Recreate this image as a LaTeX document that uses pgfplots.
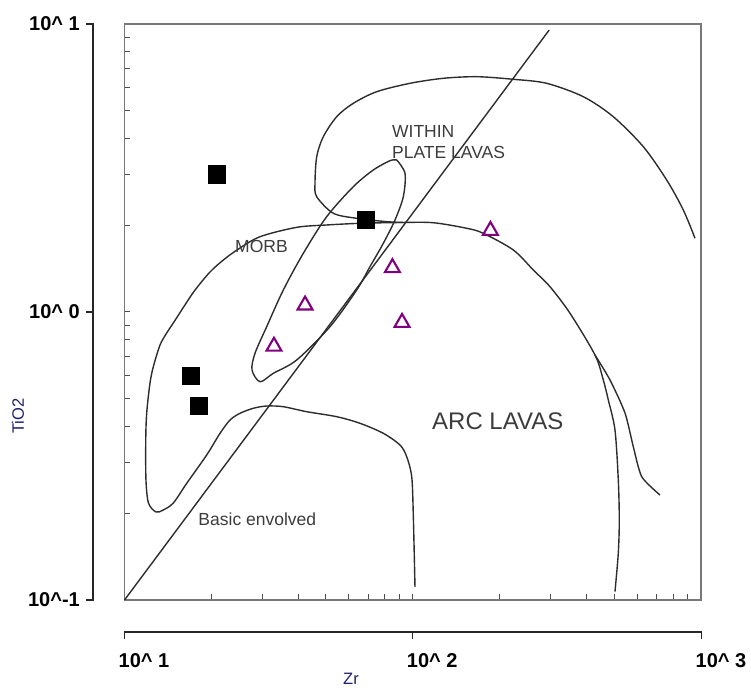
\documentclass[border=0pt]{standalone}
\usepackage{pgfplots}
\pgfplotsset{compat=1.18}
\usepackage{fontspec}
\setmainfont{Liberation Sans}
\definecolor{curve}{RGB}{45,45,45}
\definecolor{boxgray}{RGB}{120,120,120}
\definecolor{lblgray}{RGB}{60,60,60}
\definecolor{mpurple}{RGB}{128,0,128}
\definecolor{axlbl}{RGB}{30,30,110}
\begin{document}
\begin{tikzpicture}
\useasboundingbox (-124.5pt,-87pt) rectangle (626.5pt,600pt);
\begin{axis}[
  at={(0pt,0pt)}, anchor=south west,
  scale only axis, width=576.5pt, height=576pt,
  xmode=log, ymode=log,
  xmin=10, xmax=1000, ymin=0.1, ymax=10,
  axis line style={boxgray, line width=1.3pt},
  xtick pos=left, ytick pos=left,
  tick align=inside,
  xtick={10,100,1000}, ytick={0.1,1,10},
  xticklabels={,,}, yticklabels={,,},
  major tick length=6pt, minor tick length=6pt,
  every tick/.style={black!70, line width=1pt},
  clip=false,
]
% diagonal line
\addplot[curve, line width=1.4pt] coordinates {(10,0.1) (297.2,9.52)};
% MORB / ARC / basic envolved boundary
\addplot[curve, line width=1.4pt, smooth, tension=0.5] coordinates {
(101.8,0.1110) (100.4,0.2000) (99.17,0.2680) (95.28,0.3145) (90.32,0.3452)
(79.05,0.3792) (65.61,0.4107) (54.47,0.4330) (42.86,0.4506) (35.56,0.4690)
(31.14,0.4716) (27.98,0.4631) (25.16,0.4449) (23.23,0.4217) (21.45,0.3792)
(19.28,0.3188) (16.44,0.2542) (14.77,0.2172) (13.63,0.2054) (12.86,0.2021)
(12.11,0.2172) (11.87,0.2610) (11.85,0.3593) (11.94,0.4460) (12.26,0.5668)
(12.59,0.6458) (13.28,0.7680) (14.01,0.8455) (14.77,0.9159) (16.21,1.058)
(17.57,1.192) (19.80,1.377) (22.02,1.515) (24.57,1.642) (29.52,1.826)
(39.57,1.968) (50.29,2.005) (65.61,2.032) (90.32,2.045) (117.6,2.042)
(153.9,1.953) (175.7,1.876) (223.3,1.642) (261.9,1.399) (299.3,1.224)
(351.2,0.9897) (428.7,0.7093) (458.2,0.5806) (476.9,0.4948) (503.0,0.3893)
(516.5,0.2610) (520.6,0.1896) (516.5,0.1456) (503.0,0.1069)};
% outer arc branch
\addplot[curve, line width=1.4pt, smooth, tension=0.4] coordinates {
(428.7,0.7093) (483.4,0.5806) (544.9,0.4460) (582.3,0.3406) (622.8,0.2680) (720.6,0.2315)};
% within plate lavas
\addplot[curve, line width=1.4pt, smooth, tension=0.5] coordinates {
(93.99,2.045) (81.23,2.059) (63.90,2.115) (53.01,2.202) (46.43,2.514)
(45.80,2.798) (46.43,3.461) (48.94,4.061) (54.47,4.766) (62.19,5.304)
(74.99,5.820) (97.83,6.224) (127.6,6.478) (166.7,6.562) (223.3,6.427)
(291.5,6.224) (390.6,5.592) (496.2,4.766) (630.8,3.749) (760.3,2.873)
(868.1,2.261) (953.2,1.803)};
% MORB elongated loop
\addplot[curve, line width=1.4pt, smooth, tension=0.5] coordinates {
(87.97,3.372) (93.99,3.031) (92.73,2.514) (86.78,2.087) (79.05,1.732)
(71.07,1.437) (63.90,1.192) (51.63,0.8892) (39.57,0.6813) (32.83,0.6125)
(29.52,0.5727) (27.69,0.6290) (28.36,0.7188) (31.14,0.8892) (35.56,1.192)
(41.72,1.599) (50.29,2.143) (62.19,2.723) (72.96,3.112) (83.38,3.353)
(87.97,3.372)};
% samples
\addplot[only marks, mark=square*, mark size=8.6pt,
  mark options={draw=black, fill=black, line width=0.4pt}] coordinates {
(20.9,3.01) (68.8,2.09) (17.0,0.600) (18.1,0.472)};
\addplot[only marks, mark=triangle, mark size=8.6pt,
  mark options={draw=mpurple, line width=2.1pt, solid}] coordinates {
(33.0,0.760) (42.3,1.056) (85.0,1.424) (91.8,0.919) (186,1.918)};
% field labels
\node[anchor=west, inner sep=0pt, text=lblgray, font=\fontsize{17.5}{17.5}\selectfont] at (axis cs:84.7,4.25) {WITHIN};
\node[anchor=west, inner sep=0pt, text=lblgray, font=\fontsize{17.5}{17.5}\selectfont] at (axis cs:84.7,3.593) {PLATE LAVAS};
\node[anchor=west, inner sep=0pt, text=lblgray, font=\fontsize{17.5}{17.5}\selectfont] at (axis cs:24.17,1.695) {MORB};
\node[anchor=west, inner sep=0pt, text=lblgray, font=\fontsize{17.5}{17.5}\selectfont] at (axis cs:18.03,0.1906) {Basic envolved};
\node[anchor=west, inner sep=0pt, text=lblgray, font=\fontsize{24}{24}\selectfont] at (axis cs:116.6,0.4183) {ARC LAVAS};
\end{axis}
% outer y axis
\draw[black!85, line width=1.3pt] (-38.5pt,576pt) -- (-31.5pt,576pt) -- (-31.5pt,0pt) -- (-38.5pt,0pt);
\draw[black!85, line width=1.3pt] (-38.5pt,288pt) -- (-31.5pt,288pt);
\node[anchor=east, inner sep=0pt, font=\bfseries\fontsize{20}{20}\selectfont] at (-44.5pt,576pt) {10\textasciicircum\ 1};
\node[anchor=east, inner sep=0pt, font=\bfseries\fontsize{20}{20}\selectfont] at (-44.5pt,288pt) {10\textasciicircum\ 0};
\node[anchor=east, inner sep=0pt, font=\bfseries\fontsize{20}{20}\selectfont] at (-44.5pt,0pt) {10\textasciicircum-1};
% outer x axis
\draw[black!85, line width=1.3pt] (0pt,-39pt) -- (0pt,-32pt) -- (577pt,-32pt) -- (577pt,-39pt);
\draw[black!85, line width=1.3pt] (288.25pt,-32pt) -- (288.25pt,-39pt);
\node[anchor=west, inner sep=0pt, font=\bfseries\fontsize{20}{20}\selectfont] at (-6pt,-60.5pt) {10\textasciicircum\ 1};
\node[anchor=west, inner sep=0pt, font=\bfseries\fontsize{20}{20}\selectfont] at (282.25pt,-60.5pt) {10\textasciicircum\ 2};
\node[anchor=west, inner sep=0pt, font=\bfseries\fontsize{20}{20}\selectfont] at (571pt,-60.5pt) {10\textasciicircum\ 3};
% axis titles
\node[rotate=90, inner sep=0pt, text=axlbl, font=\fontsize{16.5}{16.5}\selectfont] at (-106.5pt,184pt) {TiO2};
\node[inner sep=0pt, text=axlbl, font=\fontsize{16.5}{16.5}\selectfont] at (226.5pt,-79pt) {Zr};
\end{tikzpicture}
\end{document}
